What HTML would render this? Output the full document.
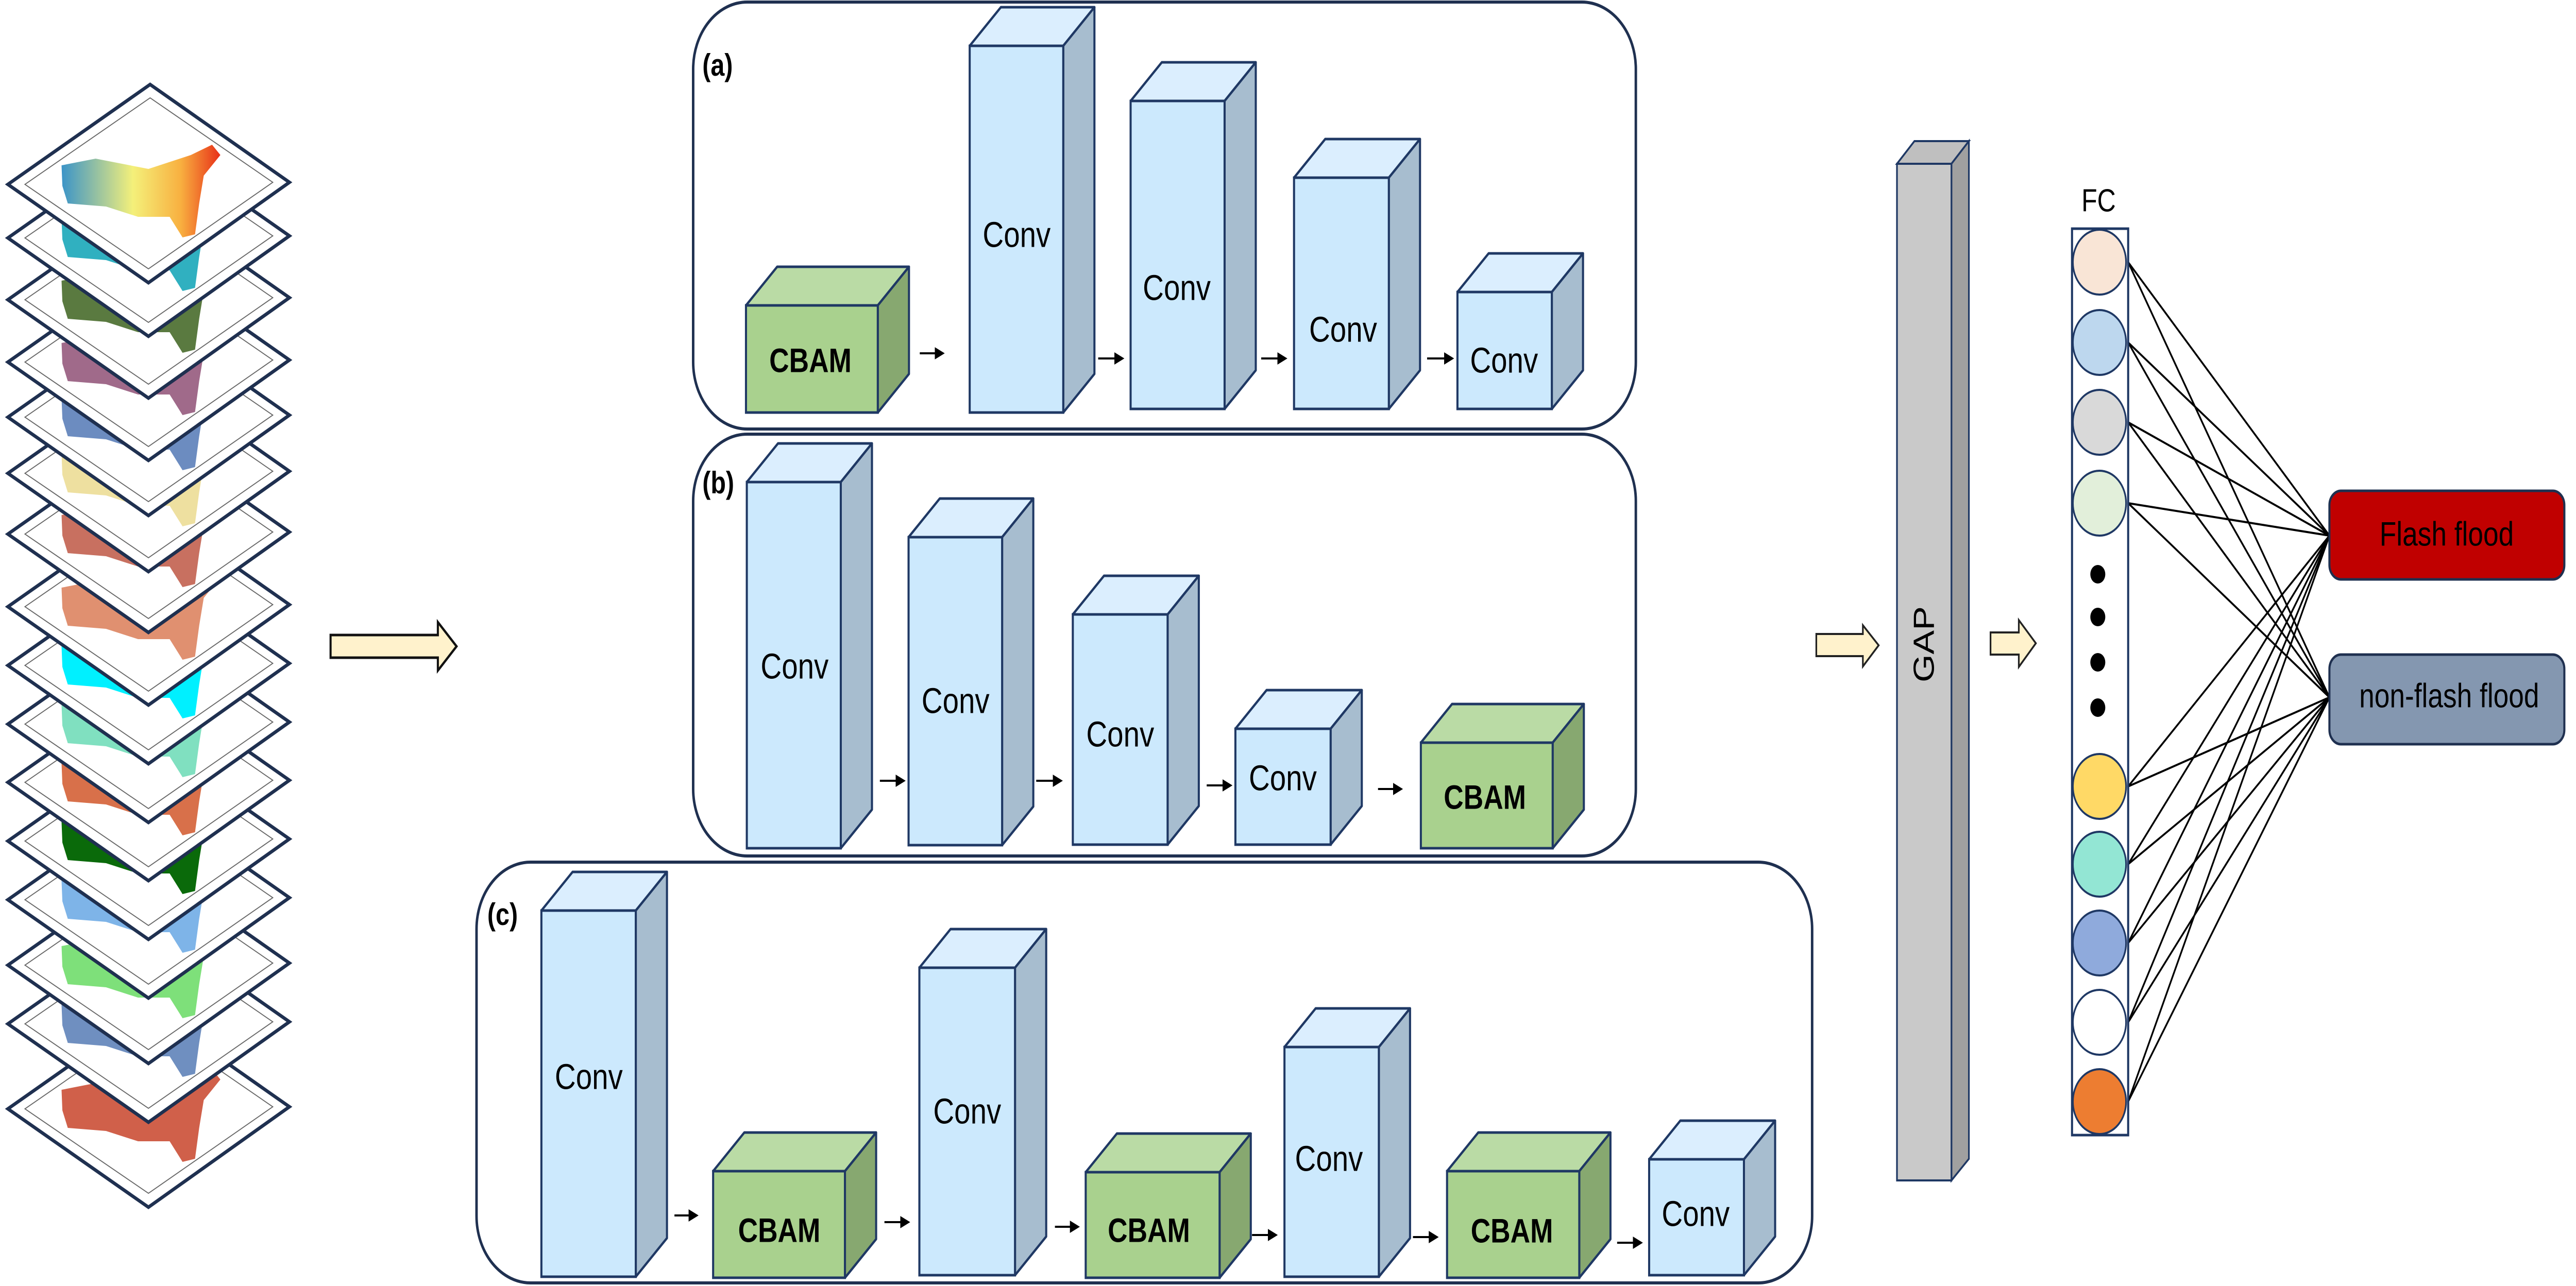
<!DOCTYPE html>
<html><head><meta charset="utf-8"><style>
html,body{margin:0;padding:0;background:#fff;overflow:hidden;width:100vw;height:100vh;}
svg{display:block;width:100vw;height:100vh;}
.cv{font-family:"Liberation Sans",sans-serif;font-size:70px;fill:#000;text-anchor:middle;dominant-baseline:middle;}
.cb{font-family:"Liberation Sans",sans-serif;font-size:66px;font-weight:bold;fill:#000;text-anchor:middle;dominant-baseline:middle;}
.lb{font-family:"Liberation Sans",sans-serif;font-size:60px;font-weight:bold;fill:#000;}
.box{fill:none;stroke:#1f3050;stroke-width:6;}
.cf{fill:#cce9fd;stroke:#1f3864;stroke-width:5;}
.ct{fill:#dbeefe;stroke:#1f3864;stroke-width:5;stroke-linejoin:round;}
.cs{fill:#a7bdcf;stroke:#1f3864;stroke-width:5;stroke-linejoin:round;}
.gf{fill:#a9d18e;stroke:#1f3864;stroke-width:5;}
.gt{fill:#badba5;stroke:#1f3864;stroke-width:5;stroke-linejoin:round;}
.gs{fill:#87a870;stroke:#1f3864;stroke-width:5;stroke-linejoin:round;}
.ar{stroke:#000;stroke-width:4;}
.fc{stroke:#000;stroke-width:4;}
</style></head><body>
<svg viewBox="0 0 6195 2497" preserveAspectRatio="none" xmlns="http://www.w3.org/2000/svg">
<defs>
<marker id="ah" markerWidth="6" markerHeight="6" refX="5" refY="3" orient="auto" markerUnits="strokeWidth"><path d="M0,0 L6,3 L0,6 z" fill="#000"/></marker>
<linearGradient id="elev" x1="0" x2="1" y1="0" y2="0"><stop offset="0" stop-color="#3b94c8"/><stop offset="0.45" stop-color="#f4f07a"/><stop offset="0.75" stop-color="#f8b040"/><stop offset="1" stop-color="#e83018"/></linearGradient>
<g id="sh"><polygon points="19,358 361,164 696,354 357,549" fill="#fff" stroke="#1f3050" stroke-width="7" stroke-linejoin="miter"/><polygon points="60,358 361,190 656,354 357,522" fill="none" stroke="#666" stroke-width="2"/></g>
<polygon id="bl" points="148,321 230,308 357,328 459,301 510,281 530,301 490,341 479,395 469,455 439,461 408,421 332,421 255,401 163,395 150,361"/>
</defs>

<g transform="translate(0,1795)"><use href="#sh"/><use href="#bl" fill="#d0604a"/></g>
<g transform="translate(0,1630)"><use href="#sh"/><use href="#bl" fill="#6f8fc0"/></g>
<g transform="translate(0,1516)"><use href="#sh"/><use href="#bl" fill="#7ee07a"/></g>
<g transform="translate(0,1389)"><use href="#sh"/><use href="#bl" fill="#7eb4e8"/></g>
<g transform="translate(0,1275)"><use href="#sh"/><use href="#bl" fill="#0a6a0a"/></g>
<g transform="translate(0,1161)"><use href="#sh"/><use href="#bl" fill="#d8704a"/></g>
<g transform="translate(0,1048)"><use href="#sh"/><use href="#bl" fill="#80e0c0"/></g>
<g transform="translate(0,934)"><use href="#sh"/><use href="#bl" fill="#00f0ff"/></g>
<g transform="translate(0,820)"><use href="#sh"/><use href="#bl" fill="#e09070"/></g>
<g transform="translate(0,679)"><use href="#sh"/><use href="#bl" fill="#c87060"/></g>
<g transform="translate(0,561)"><use href="#sh"/><use href="#bl" fill="#eee0a0"/></g>
<g transform="translate(0,452)"><use href="#sh"/><use href="#bl" fill="#6c8cc0"/></g>
<g transform="translate(0,345)"><use href="#sh"/><use href="#bl" fill="#a06a8a"/></g>
<g transform="translate(0,224)"><use href="#sh"/><use href="#bl" fill="#5a7a40"/></g>
<g transform="translate(0,104)"><use href="#sh"/><use href="#bl" fill="#30b0c0"/></g>
<g><use href="#sh"/><use href="#bl" fill="url(#elev)"/></g>

<polygon points="795,1233 1053,1233 1053,1208 1098,1255 1053,1302 1053,1277 795,1277" fill="#fff2cc" stroke="#111" stroke-width="5"/>

<rect class="box" x="1667" y="4" width="2267" height="829" rx="130"/>
<text class="lb" x="1689" y="147">(a)</text>
<polygon class="gt" points="1794,593 1869,518 2186,518 2111,593"/><polygon class="gs" points="2111,593 2186,518 2186,726 2111,801"/><rect class="gf" x="1794" y="593" width="317" height="208"/>
<text class="cb" x="1949" y="705">CBAM</text>
<polygon class="ct" points="2332,89 2407,14 2632,14 2557,89"/><polygon class="cs" points="2557,89 2632,14 2632,726 2557,801"/><rect class="cf" x="2332" y="89" width="225" height="712"/>
<text class="cv" x="2445" y="461">Conv</text>
<polygon class="ct" points="2719,196 2794,121 3020,121 2945,196"/><polygon class="cs" points="2945,196 3020,121 3020,719 2945,794"/><rect class="cf" x="2719" y="196" width="226" height="598"/>
<text class="cv" x="2830" y="564">Conv</text>
<polygon class="ct" points="3112,345 3187,270 3415,270 3340,345"/><polygon class="cs" points="3340,345 3415,270 3415,719 3340,794"/><rect class="cf" x="3112" y="345" width="228" height="449"/>
<text class="cv" x="3230" y="645">Conv</text>
<polygon class="ct" points="3505,567 3580,492 3807,492 3732,567"/><polygon class="cs" points="3732,567 3807,492 3807,719 3732,794"/><rect class="cf" x="3505" y="567" width="227" height="227"/>
<text class="cv" x="3617" y="705">Conv</text>
<line class="ar" x1="2212" y1="686" x2="2268" y2="686" marker-end="url(#ah)"/>
<line class="ar" x1="2641" y1="696" x2="2700" y2="696" marker-end="url(#ah)"/>
<line class="ar" x1="3033" y1="696" x2="3092" y2="696" marker-end="url(#ah)"/>
<line class="ar" x1="3432" y1="696" x2="3493" y2="696" marker-end="url(#ah)"/>

<rect class="box" x="1667" y="843" width="2267" height="819" rx="130"/>
<text class="lb" x="1689" y="958">(b)</text>
<polygon class="ct" points="1796,936 1871,861 2097,861 2022,936"/><polygon class="cs" points="2022,936 2097,861 2097,1572 2022,1647"/><rect class="cf" x="1796" y="936" width="226" height="711"/>
<text class="cv" x="1911" y="1299">Conv</text>
<polygon class="ct" points="2185,1043 2260,968 2485,968 2410,1043"/><polygon class="cs" points="2410,1043 2485,968 2485,1566 2410,1641"/><rect class="cf" x="2185" y="1043" width="225" height="598"/>
<text class="cv" x="2298" y="1366">Conv</text>
<polygon class="ct" points="2580,1193 2655,1118 2883,1118 2808,1193"/><polygon class="cs" points="2808,1193 2883,1118 2883,1565 2808,1640"/><rect class="cf" x="2580" y="1193" width="228" height="447"/>
<text class="cv" x="2694" y="1431">Conv</text>
<polygon class="ct" points="2971,1415 3046,1340 3275,1340 3200,1415"/><polygon class="cs" points="3200,1415 3275,1340 3275,1565 3200,1640"/><rect class="cf" x="2971" y="1415" width="229" height="225"/>
<text class="cv" x="3085" y="1516">Conv</text>
<polygon class="gt" points="3417,1442 3492,1367 3809,1367 3734,1442"/><polygon class="gs" points="3734,1442 3809,1367 3809,1572 3734,1647"/><rect class="gf" x="3417" y="1442" width="317" height="205"/>
<text class="cb" x="3571" y="1553">CBAM</text>
<line class="ar" x1="2116" y1="1516" x2="2174" y2="1516" marker-end="url(#ah)"/>
<line class="ar" x1="2492" y1="1516" x2="2552" y2="1516" marker-end="url(#ah)"/>
<line class="ar" x1="2902" y1="1525" x2="2960" y2="1525" marker-end="url(#ah)"/>
<line class="ar" x1="3314" y1="1532" x2="3370" y2="1532" marker-end="url(#ah)"/>

<rect class="box" x="1146" y="1674" width="3212" height="817" rx="130"/>
<text class="lb" x="1172" y="1796">(c)</text>
<polygon class="ct" points="1302,1768 1377,1693 1604,1693 1529,1768"/><polygon class="cs" points="1529,1768 1604,1693 1604,2404 1529,2479"/><rect class="cf" x="1302" y="1768" width="227" height="711"/>
<text class="cv" x="1416" y="2096">Conv</text>
<polygon class="gt" points="1715,2274 1790,2199 2107,2199 2032,2274"/><polygon class="gs" points="2032,2274 2107,2199 2107,2406 2032,2481"/><rect class="gf" x="1715" y="2274" width="317" height="207"/>
<text class="cb" x="1874" y="2394">CBAM</text>
<polygon class="ct" points="2211,1879 2286,1804 2516,1804 2441,1879"/><polygon class="cs" points="2441,1879 2516,1804 2516,2401 2441,2476"/><rect class="cf" x="2211" y="1879" width="230" height="597"/>
<text class="cv" x="2326" y="2163">Conv</text>
<polygon class="gt" points="2611,2276 2686,2201 3008,2201 2933,2276"/><polygon class="gs" points="2933,2276 3008,2201 3008,2406 2933,2481"/><rect class="gf" x="2611" y="2276" width="322" height="205"/>
<text class="cb" x="2763" y="2394">CBAM</text>
<polygon class="ct" points="3089,2033 3164,1958 3391,1958 3316,2033"/><polygon class="cs" points="3316,2033 3391,1958 3391,2404 3316,2479"/><rect class="cf" x="3089" y="2033" width="227" height="446"/>
<text class="cv" x="3196" y="2255">Conv</text>
<polygon class="gt" points="3480,2274 3555,2199 3873,2199 3798,2274"/><polygon class="gs" points="3798,2274 3873,2199 3873,2406 3798,2481"/><rect class="gf" x="3480" y="2274" width="318" height="207"/>
<text class="cb" x="3636" y="2395">CBAM</text>
<polygon class="ct" points="3966,2251 4041,2176 4269,2176 4194,2251"/><polygon class="cs" points="4194,2251 4269,2176 4269,2401 4194,2476"/><rect class="cf" x="3966" y="2251" width="228" height="225"/>
<text class="cv" x="4078" y="2362">Conv</text>
<line class="ar" x1="1622" y1="2360" x2="1676" y2="2360" marker-end="url(#ah)"/>
<line class="ar" x1="2127" y1="2373" x2="2185" y2="2373" marker-end="url(#ah)"/>
<line class="ar" x1="2537" y1="2382" x2="2593" y2="2382" marker-end="url(#ah)"/>
<line class="ar" x1="3011" y1="2398" x2="3069" y2="2398" marker-end="url(#ah)"/>
<line class="ar" x1="3398" y1="2402" x2="3456" y2="2402" marker-end="url(#ah)"/>
<line class="ar" x1="3889" y1="2413" x2="3947" y2="2413" marker-end="url(#ah)"/>

<polygon points="4368,1231 4480,1231 4480,1214 4518,1253 4480,1294 4480,1274 4368,1274" fill="#fff2cc" stroke="#222" stroke-width="4"/>
<polygon points="4562,318 4604,274 4735,274 4693,318" fill="#bfbfbf" stroke="#1f3864" stroke-width="4"/>
<polygon points="4693,318 4735,274 4735,2250 4693,2292" fill="#a0a0a0" stroke="#1f3864" stroke-width="4"/>
<rect x="4562" y="318" width="131" height="1974" fill="#c9c9c9" stroke="#1f3864" stroke-width="4"/>
<text x="4632" y="1251" transform="rotate(-90 4632 1251)" style="font-family:'Liberation Sans',sans-serif;font-size:70px;text-anchor:middle;dominant-baseline:middle;">GAP</text>
<polygon points="4787,1228 4855,1228 4855,1204 4896,1249 4855,1295 4855,1271 4787,1271" fill="#fff2cc" stroke="#222" stroke-width="4"/>

<text x="5047" y="394" style="font-family:'Liberation Sans',sans-serif;font-size:62px;text-anchor:middle;dominant-baseline:middle;">FC</text>
<g class="fc">
<line x1="5118" y1="509" x2="5602" y2="1040"/><line x1="5118" y1="509" x2="5602" y2="1354"/>
<line x1="5118" y1="665" x2="5602" y2="1040"/><line x1="5118" y1="665" x2="5602" y2="1354"/>
<line x1="5118" y1="820" x2="5602" y2="1040"/><line x1="5118" y1="820" x2="5602" y2="1354"/>
<line x1="5118" y1="977" x2="5602" y2="1040"/><line x1="5118" y1="977" x2="5602" y2="1354"/>
<line x1="5118" y1="1527" x2="5602" y2="1040"/><line x1="5118" y1="1527" x2="5602" y2="1354"/>
<line x1="5118" y1="1678" x2="5602" y2="1040"/><line x1="5118" y1="1678" x2="5602" y2="1354"/>
<line x1="5118" y1="1831" x2="5602" y2="1040"/><line x1="5118" y1="1831" x2="5602" y2="1354"/>
<line x1="5118" y1="1985" x2="5602" y2="1040"/><line x1="5118" y1="1985" x2="5602" y2="1354"/>
<line x1="5118" y1="2139" x2="5602" y2="1040"/><line x1="5118" y1="2139" x2="5602" y2="1354"/>
</g>
<rect x="4983" y="444" width="135" height="1760" fill="#fff" stroke="#1f3864" stroke-width="5"/>
<g stroke="#1f3864" stroke-width="4">
<ellipse cx="5049" cy="509" rx="64" ry="63" fill="#f9e5d6"/>
<ellipse cx="5049" cy="665" rx="64" ry="63" fill="#bdd7ee"/>
<ellipse cx="5049" cy="820" rx="64" ry="63" fill="#d9d9d9"/>
<ellipse cx="5049" cy="977" rx="64" ry="63" fill="#e2efda"/>
<ellipse cx="5049" cy="1527" rx="64" ry="63" fill="#ffd966"/>
<ellipse cx="5049" cy="1678" rx="64" ry="63" fill="#93e6d4"/>
<ellipse cx="5049" cy="1831" rx="64" ry="63" fill="#8faadc"/>
<ellipse cx="5049" cy="1985" rx="64" ry="63" fill="#ffffff"/>
<ellipse cx="5049" cy="2139" rx="64" ry="63" fill="#ed7d31"/>
</g>
<g fill="#000"><circle cx="5045" cy="1115" r="18"/><circle cx="5045" cy="1198" r="18"/><circle cx="5045" cy="1286" r="18"/><circle cx="5045" cy="1374" r="18"/></g>

<rect x="5602" y="953" width="565" height="172" rx="28" fill="#c00000" stroke="#1f3050" stroke-width="5"/>
<text x="5884" y="1042" style="font-family:'Liberation Sans',sans-serif;font-size:66px;text-anchor:middle;dominant-baseline:middle;">Flash flood</text>
<rect x="5602" y="1271" width="565" height="174" rx="28" fill="#8497b0" stroke="#1f3050" stroke-width="5"/>
<text x="5890" y="1356" style="font-family:'Liberation Sans',sans-serif;font-size:66px;text-anchor:middle;dominant-baseline:middle;">non-flash flood</text>
</svg>
</body></html>
